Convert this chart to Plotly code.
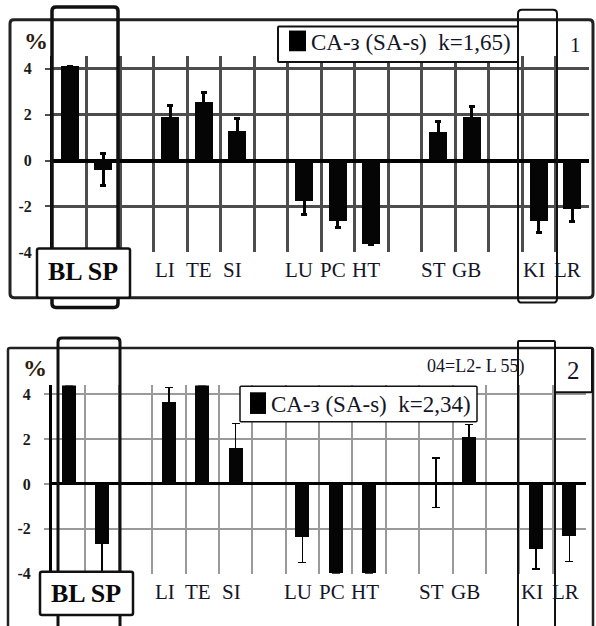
import plotly.graph_objects as go

# ---- data -------------------------------------------------------------
categories = ["BL", "SP", "", "LI", "TE", "SI", "", "LU", "PC", "HT", "", "ST", "GB", "", "KI", "LR"]
boxed_labels = ["BL", "SP"]

shift_1 = [4.1, -0.4, None, 1.9, 2.55, 1.3, None, -1.75, -2.65, -3.65, None, 1.25, 1.9, None, -2.65, -2.1]
err_1 = [0.0, 0.7, None, 0.5, 0.4, 0.55, None, 0.6, 0.25, 0.0, None, 0.45, 0.45, None, 0.5, 0.55]

shift_2 = [4.4, -2.7, None, 3.65, 4.4, 1.6, None, -2.4, -4.0, -4.0, None, 0.05, 2.1, None, -2.9, -2.35]
err_2 = [0.0, 1.4, None, 0.65, 0.0, 1.1, None, 1.1, 0.0, 0.0, None, 1.1, 0.55, None, 0.9, 1.1]

y_ticks = [-4, -2, 0, 2, 4]
legend_1 = "CA-з (SA-s)  k=1,65)"
legend_2 = "CA-з (SA-s)  k=2,34)"
panel_names = ["1", "2"]
note_2 = "04=L2- L 55)"

# ---- geometry helpers (pixels -> paper) --------------------------------
W, H = 596, 626


def px(x):
    return x / W


def py(y):
    return 1 - y / H


def rrect(x0, y0, x1, y1, r=4):
    rx, ry = r / W, r / H
    X0, X1 = px(x0), px(x1)
    Y0, Y1 = py(y0), py(y1)  # Y0 is top
    return (f"M {X0+rx},{Y0} L {X1-rx},{Y0} Q {X1},{Y0} {X1},{Y0-ry} "
            f"L {X1},{Y1+ry} Q {X1},{Y1} {X1-rx},{Y1} "
            f"L {X0+rx},{Y1} Q {X0},{Y1} {X0},{Y1+ry} "
            f"L {X0},{Y0-ry} Q {X0},{Y0} {X0+rx},{Y0} Z")


positions = list(range(len(categories)))
SERIF = "Liberation Serif, Times New Roman, serif"

fig = go.Figure()

fig.add_trace(go.Bar(
    x=positions, y=shift_1, width=0.55, marker=dict(color="#050505", line=dict(width=0)),
    error_y=dict(type="data", array=err_1, visible=True, color="#050505", thickness=3, width=3),
    xaxis="x", yaxis="y", showlegend=False))

fig.add_trace(go.Bar(
    x=positions, y=shift_2, width=0.42, marker=dict(color="#050505", line=dict(width=0)),
    error_y=dict(type="data", array=err_2, visible=True, color="#050505", thickness=1.5, width=4),
    xaxis="x2", yaxis="y2", showlegend=False))

boundaries = [i - 0.5 for i in range(len(categories) + 1)]

common_x = dict(range=[-0.5, len(categories) - 0.5], tickvals=boundaries, showticklabels=False,
                ticks="", zeroline=False, showline=False)
common_y = dict(tickvals=y_ticks, ticktext=[str(v) for v in y_ticks], ticks="outside", ticklen=5,
                tickwidth=2, tickfont=dict(family=SERIF, size=16, color="#1a1a1a", weight="bold"),
                ticklabelstandoff=10, showline=True, linecolor="#000", linewidth=3)

fig.update_layout(
    width=W, height=H, margin=dict(l=0, r=0, t=0, b=0),
    paper_bgcolor="white", plot_bgcolor="white", bargap=0,
    xaxis=dict(domain=[px(53), px(589)], anchor="y", showgrid=True, gridcolor="#4d4d4d",
               gridwidth=2.5, **common_x),
    yaxis=dict(domain=[py(256), py(57)], anchor="x", range=[-4, 4.55], showgrid=True,
               gridcolor="#4d4d4d", gridwidth=2.5, zeroline=True, zerolinecolor="#000",
               zerolinewidth=3.5, tickcolor="#4d4d4d", **common_y),
    xaxis2=dict(domain=[px(52), px(586)], anchor="y2", showgrid=True, gridcolor="#9a9a9a",
                gridwidth=1.6, **common_x),
    yaxis2=dict(domain=[py(582), py(391)], anchor="x2", range=[-4, 4.4], showgrid=True,
                gridcolor="#9a9a9a", gridwidth=1.6, zeroline=True, zerolinecolor="#000",
                zerolinewidth=2.5, tickcolor="#9a9a9a", **common_y),
)

# ---- frames and boxes ---------------------------------------------------
shapes = []


def box(x0, y0, x1, y1, w=2, fill=None, r=4, color="#111"):
    shapes.append(dict(type="path", path=rrect(x0, y0, x1, y1, r), xref="paper", yref="paper",
                       line=dict(color=color, width=w), fillcolor=fill or "rgba(0,0,0,0)",
                       layer="above"))


# panel 1
box(10, 20, 593, 302, w=3, color="#222")
box(52, 7, 118, 312, w=3.5)
box(518, 10, 557, 307, w=2)
box(278, 27, 518, 63, w=2, fill="white", r=1)
box(37, 252, 130, 302, w=2.5, fill="white", r=2)
# panel 2
box(8, 353, 593, 660, w=2.5, color="#222", r=2)
box(58, 343, 120, 660, w=3)
box(518, 346, 555, 660, w=2, r=1)
box(555, 353, 592, 398, w=2, fill="white", r=1)
box(240, 392, 477, 428, w=1.5, fill="white", r=1)
box(40, 580, 133, 624, w=2.5, fill="white", r=2)

# legend swatches
for (x0, y0, x1, y1) in [(289, 31, 306, 52), (250, 398, 266, 420)]:
    shapes.append(dict(type="rect", xref="paper", yref="paper", x0=px(x0), x1=px(x1),
                       y0=py(y1), y1=py(y0), fillcolor="#000", line=dict(width=0),
                       layer="above"))

fig.update_layout(shapes=shapes)

# ---- texts --------------------------------------------------------------
ann = []


def text(x, y, s, size, bold=False, xanchor="center", xref="paper", color="#141428", xshift=0):
    ann.append(dict(x=x if xref != "paper" else px(x), y=py(y), xref=xref, yref="paper", text=s,
                    showarrow=False, xanchor=xanchor, yanchor="middle", xshift=xshift,
                    font=dict(family=SERIF, size=size, color=color,
                              weight="bold" if bold else "normal")))


for i, c in enumerate(categories):
    if c and c not in boxed_labels:
        text(i, 274, c, 21, xref="x", xshift=-5)
        text(i, 601, c, 21, xref="x2", xshift=-4)

text(83, 275, " ".join(boxed_labels), 26, bold=True, color="#0a0a0a")
text(86, 602, " ".join(boxed_labels), 26, bold=True, color="#0a0a0a")

text(36, 42, "%", 24, bold=True, color="#2a1a0a")
text(35, 373, "%", 24, bold=True, color="#2a1a0a")

text(309, 43, legend_1, 23, xanchor="left")
text(269, 410, legend_2, 23, xanchor="left")

text(575, 46, panel_names[0], 21)
text(573, 376, panel_names[1], 25)
text(475, 372, note_2, 18)

fig.update_layout(annotations=ann)

fig.write_html("out.html")
